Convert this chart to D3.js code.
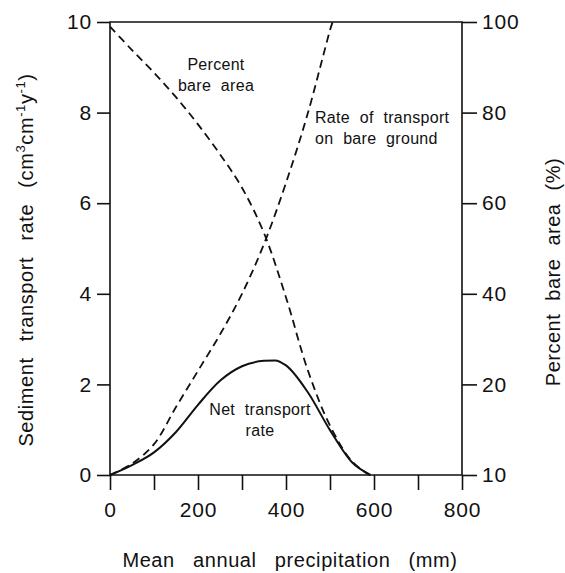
<!DOCTYPE html>
<html>
<head>
<meta charset="utf-8">
<script src="https://cdn.jsdelivr.net/npm/d3@7"></script>
<style>
  html, body { margin: 0; padding: 0; background: #fff; }
  svg { display: block; font-family: "Liberation Sans", Arial, Helvetica, sans-serif; }
</style>
</head>
<body>
<svg id="chart" width="565" height="573"></svg>
<script>
// Mean annual precipitation (mm) at which the bare-area curve is sampled
const precip = [0, 50, 100, 150, 200, 250, 300, 350, 400, 450, 500, 550, 590];

// Percent of ground that is bare (right axis, %)
const bareArea = [99, 93.8, 88.8, 83.4, 77.4, 70.8, 63.4, 53.4, 39.2, 23.0, 10.9, 3.0, 0];

// Sediment transport rate on bare ground (left axis, cm3 cm-1 y-1)
const bareRatePrecip = [0, 50, 100, 150, 200, 250, 300, 350, 400, 450, 500, 506];
const bareRate = [0, 0.25, 0.68, 1.5, 2.3, 3.1, 4.0, 5.1, 6.45, 8.0, 9.82, 10];

// Net sediment transport rate (left axis, cm3 cm-1 y-1)
const netPrecip = [0, 50, 100, 150, 200, 250, 300, 350, 375, 400, 450, 500, 550, 592];
const netRate = [0, 0.22, 0.5, 0.95, 1.55, 2.08, 2.40, 2.52, 2.53, 2.42, 1.82, 0.99, 0.28, 0];

// Axis ticks and their printed labels
const xTicks = [0, 100, 200, 300, 400, 500, 600, 700, 800];
const xTickLabels = [0, 200, 400, 600, 800];
const leftTicks = [0, 2, 4, 6, 8, 10];
const rightTicks = [0, 20, 40, 60, 80, 100];
const rightTickLabels = ["10", "20", "40", "60", "80", "100"];

const svg = d3.select("#chart");
const frame = { left: 110, right: 462, top: 22, bottom: 475 };

const x = d3.scaleLinear().domain([0, 800]).range([frame.left, frame.right]);
const yL = d3.scaleLinear().domain([0, 10]).range([frame.bottom, frame.top]);
const yR = d3.scaleLinear().domain([0, 100]).range([frame.bottom, frame.top]);

const ink = "#111";
const axisWidth = 1.6;

// Axes
const styleAxis = g => {
  g.select(".domain").remove();
  g.selectAll(".tick line").attr("stroke", ink).attr("stroke-width", axisWidth);
  g.selectAll(".tick text").attr("fill", ink).attr("font-size", 21)
    .style("letter-spacing", "0.8px")
    .attr("font-family", "\"Liberation Sans\", Arial, Helvetica, sans-serif");
};

svg.append("g")
  .attr("transform", `translate(0,${frame.bottom})`)
  .call(d3.axisBottom(x).tickValues(xTicks).tickSize(15).tickPadding(12)
    .tickFormat(d => xTickLabels.includes(d) ? d : ""))
  .call(styleAxis);

svg.append("g")
  .attr("transform", `translate(${frame.left},0)`)
  .call(d3.axisLeft(yL).tickValues(leftTicks).tickSize(13).tickPadding(5))
  .call(styleAxis);

svg.append("g")
  .attr("transform", `translate(${frame.right},0)`)
  .call(d3.axisRight(yR).tickValues(rightTicks).tickSize(15).tickPadding(5)
    .tickFormat((d, i) => rightTickLabels[i]))
  .call(styleAxis);

// Frame: left, right, bottom and top edges of the plot
svg.append("path")
  .attr("d", `M${frame.left},${frame.top}V${frame.bottom}H${frame.right}V${frame.top}Z`)
  .attr("fill", "none").attr("stroke", ink).attr("stroke-width", axisWidth);

// Curves
const plot = svg.append("g");
const curve = d3.curveCatmullRom.alpha(0.5);

plot.append("path")
  .datum(d3.zip(precip, bareArea))
  .attr("d", d3.line().x(d => x(d[0])).y(d => yR(d[1])).curve(curve))
  .attr("fill", "none").attr("stroke", ink).attr("stroke-width", 1.8)
  .attr("stroke-dasharray", "8,5");

plot.append("path")
  .datum(d3.zip(bareRatePrecip, bareRate))
  .attr("d", d3.line().x(d => x(d[0])).y(d => yL(d[1])).curve(curve))
  .attr("fill", "none").attr("stroke", ink).attr("stroke-width", 1.8)
  .attr("stroke-dasharray", "8,5");

plot.append("path")
  .datum(d3.zip(netPrecip, netRate))
  .attr("d", d3.line().x(d => x(d[0])).y(d => yL(d[1])).curve(d3.curveMonotoneX))
  .attr("fill", "none").attr("stroke", ink).attr("stroke-width", 2);

// Curve labels
const note = (lines, px, py, anchor) => {
  const t = svg.append("text").attr("font-size", 16).attr("fill", ink)
    .attr("text-anchor", anchor).style("word-spacing", "5px")
    .style("letter-spacing", "0.3px");
  lines.forEach((s, i) => t.append("tspan").attr("x", px).attr("y", py + i * 20.5).text(s));
};
note(["Percent", "bare area"], 216, 70, "middle");
note(["Rate of transport", "on bare ground"], 315, 123, "start");
note(["Net transport", "rate"], 260, 415, "middle");

// Axis titles
svg.append("text")
  .attr("x", 290).attr("y", 567)
  .attr("text-anchor", "middle").attr("font-size", 20).attr("fill", ink)
  .style("word-spacing", "12px").style("letter-spacing", "0.6px")
  .text("Mean annual precipitation (mm)");

const leftTitle = svg.append("text")
  .attr("transform", "translate(33,260) rotate(-90)")
  .attr("text-anchor", "middle").attr("font-size", 20).attr("fill", ink)
  .style("word-spacing", "10px").style("letter-spacing", "0.6px");
leftTitle.append("tspan").text("Sediment transport rate (cm");
leftTitle.append("tspan").attr("font-size", 13).attr("dy", -8).text("3");
leftTitle.append("tspan").attr("dy", 8).text("cm");
leftTitle.append("tspan").attr("font-size", 13).attr("dy", -8).text("-1");
leftTitle.append("tspan").attr("dy", 8).text("y");
leftTitle.append("tspan").attr("font-size", 13).attr("dy", -8).text("-1");
leftTitle.append("tspan").attr("dy", 8).text(")");

svg.append("text")
  .attr("transform", "translate(560,272) rotate(-90)")
  .attr("text-anchor", "middle").attr("font-size", 20).attr("fill", ink)
  .style("word-spacing", "7px").style("letter-spacing", "0.5px")
  .text("Percent bare area (%)");
</script>
</body>
</html>
